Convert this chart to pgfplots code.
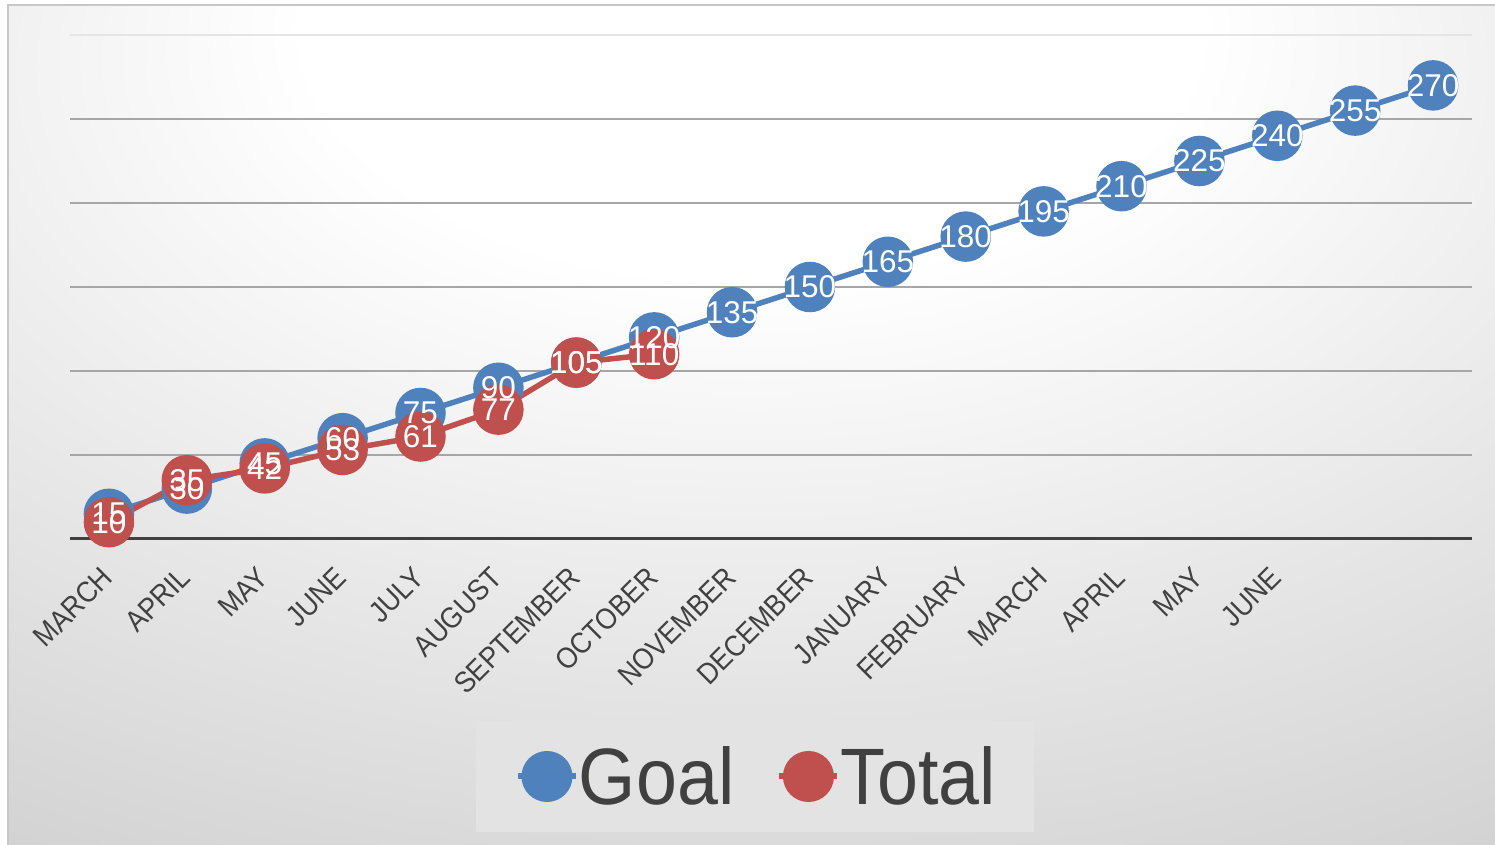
\documentclass[border=0pt]{standalone}
\usepackage{pgfplots}
\pgfplotsset{compat=1.18}
\usepackage{fontspec}
\setmainfont{Liberation Sans}
\newfontfamily\tickfont[FakeStretch=0.9]{Liberation Sans}
\newfontfamily\legfont[FakeStretch=0.92]{Liberation Sans}
\definecolor{goalc}{RGB}{79,129,189}
\definecolor{totalc}{RGB}{192,80,77}
\definecolor{txt}{RGB}{64,64,64}
\pgfdeclareradialshading{bgshade}{\pgfpoint{0bp}{28bp}}{color(0bp)=(white); color(15bp)=(white); color(50bp)=(black!19); color(80bp)=(black!20); color(100bp)=(black!24)}

\pgfplotstableread{
x y
0 15
1 30
2 45
3 60
4 75
5 90
6 105
7 120
8 135
9 150
10 165
11 180
12 195
13 210
14 225
15 240
16 255
17 270
}\goaldata

\pgfplotstableread{
x y
0 10
1 35
2 42
3 53
4 61
5 77
6 105
7 110
}\totaldata

\begin{document}
\begin{tikzpicture}
\useasboundingbox (0pt,0pt) rectangle (1495pt,845pt);
\fill[white] (0pt,0pt) rectangle (1495pt,845pt);
\shade[shading=bgshade] (8pt,0pt) rectangle (1495pt,840pt);
\draw[black!22, line width=1.5pt] (8pt,0pt) -- (8pt,840pt) -- (1495pt,840pt);
\begin{axis}[
  at={(70pt,306pt)}, anchor=south west, scale only axis,
  width=1402pt, height=504pt,
  xmin=-0.5, xmax=17.5, ymin=0, ymax=300,
  axis x line=bottom, axis y line=left,
  axis line style={-},
  x axis line style={draw=txt, line width=3pt},
  y axis line style={draw=none},
  major tick length=0pt,
  xtick={0,...,15},
  xticklabels={MARCH,APRIL,MAY,JUNE,JULY,AUGUST,SEPTEMBER,OCTOBER,NOVEMBER,DECEMBER,JANUARY,FEBRUARY,MARCH,APRIL,MAY,JUNE},
  xticklabel style={font=\tickfont\fontsize{29.5}{34}\selectfont, text=txt, inner sep=0pt, xshift=-9pt, yshift=-26pt, rotate=45, anchor=north east},
  ytick={50,100,150,200,250}, yticklabels={},
  ymajorgrids, grid style={draw=black!35, line width=1.5pt},
  extra y ticks={300}, extra y tick labels={},
  extra y tick style={grid style={draw=black!10, line width=1.5pt}},
  /pgf/number format/assume math mode=true,
  clip=false,
  legend style={at={(0.4889,-0.4712)}, anchor=center, fill=black!11, draw=none,
    font=\legfont\fontsize{80}{90}\selectfont, text=txt,
    inner xsep=38.5pt, inner ysep=25.5pt,
    nodes={inner xsep=0pt, inner ysep=0pt},
    /tikz/every even column/.append style={column sep=42pt}},
  legend columns=2,
  legend image code/.code={\draw[mark repeat=2, mark phase=2, #1, line width=6pt] plot coordinates {(0pt,0pt) (29pt,0pt) (58pt,0pt)};},
  every node near coord/.append style={anchor=center, text=white, font=\fontsize{31.5}{36}\selectfont},
]
\addplot[goalc, line width=5.5pt, mark=*, mark size=22.5pt, mark options={fill=goalc, draw=none}] table[x=x,y=y] {\goaldata};
\addlegendentry{Goal}
\addplot[totalc, line width=5.5pt, mark=*, mark size=22.5pt, mark options={fill=totalc, draw=none}] table[x=x,y=y] {\totaldata};
\addlegendentry{Total}
\addplot[draw=none, mark=none, forget plot, nodes near coords] table[x=x,y=y] {\goaldata};
\addplot[draw=none, mark=none, forget plot, nodes near coords] table[x=x,y=y] {\totaldata};
\end{axis}
\end{tikzpicture}
\end{document}
